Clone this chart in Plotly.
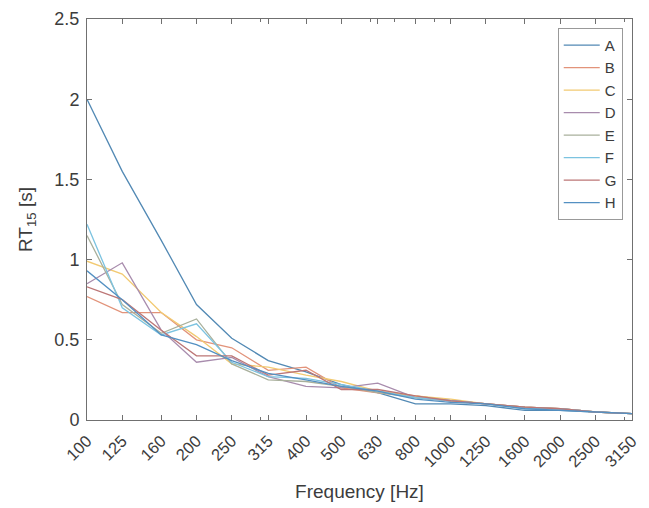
import plotly.graph_objects as go

freqs = [100, 125, 160, 200, 250, 315, 400, 500, 630, 800, 1000, 1250, 1600, 2000, 2500, 3150]
tick_labels = [str(f) for f in freqs]

A = [2.00, 1.55, 1.12, 0.72, 0.51, 0.37, 0.30, 0.22, 0.17, 0.10, 0.10, 0.09, 0.06, 0.06, 0.05, 0.04]
B = [0.77, 0.67, 0.67, 0.50, 0.45, 0.31, 0.33, 0.20, 0.17, 0.15, 0.12, 0.10, 0.08, 0.07, 0.05, 0.04]
C = [0.99, 0.91, 0.67, 0.52, 0.35, 0.33, 0.28, 0.24, 0.18, 0.15, 0.13, 0.10, 0.08, 0.07, 0.05, 0.04]
D = [0.85, 0.98, 0.56, 0.36, 0.39, 0.27, 0.21, 0.20, 0.23, 0.14, 0.12, 0.10, 0.08, 0.07, 0.05, 0.04]
E = [1.15, 0.72, 0.54, 0.63, 0.35, 0.25, 0.24, 0.21, 0.17, 0.14, 0.12, 0.10, 0.08, 0.07, 0.05, 0.04]
F = [1.22, 0.70, 0.53, 0.60, 0.36, 0.27, 0.26, 0.22, 0.18, 0.14, 0.12, 0.10, 0.07, 0.07, 0.05, 0.04]
G = [0.83, 0.75, 0.56, 0.40, 0.40, 0.28, 0.31, 0.19, 0.19, 0.15, 0.12, 0.10, 0.08, 0.07, 0.05, 0.04]
H = [0.93, 0.75, 0.53, 0.47, 0.37, 0.29, 0.25, 0.21, 0.18, 0.13, 0.11, 0.10, 0.07, 0.06, 0.05, 0.04]

series_names = ["A", "B", "C", "D", "E", "F", "G", "H"]
series_values = [A, B, C, D, E, F, G, H]
colors = ["#5289b4", "#e2937a", "#f2ca72", "#a88cad", "#a9b09c", "#7cc3e0", "#bc7676", "#5390c2"]

minor_ticks = [300, 600, 700, 900, 3000]

fig = go.Figure()
for name, vals, col in zip(series_names, series_values, colors):
    fig.add_trace(go.Scatter(x=freqs, y=vals, mode="lines", name=name,
                             line=dict(color=col, width=1.3)))

axis_col = "#707070"
font_family = "Liberation Sans, Arial, sans-serif"
txt_col = "#3c3c3c"

fig.update_layout(
    width=649, height=508,
    margin=dict(l=87, r=9, t=14, b=88),
    paper_bgcolor="white", plot_bgcolor="white",
    font=dict(family=font_family, color=txt_col),
    showlegend=True,
    legend=dict(x=0.983, y=0.978, xanchor="right", yanchor="top",
                bordercolor="#999999", borderwidth=1, bgcolor="white",
                font=dict(size=15, color=txt_col), tracegroupgap=0,
                itemwidth=36),
    xaxis=dict(type="log", range=[2, 3.49831], tickvals=freqs, ticktext=tick_labels,
               tickangle=-45, ticks="inside", ticklen=5, tickcolor=axis_col,
               showline=True, linecolor=axis_col, linewidth=1, mirror="ticks",
               showgrid=False, zeroline=False, ticklabelstandoff=4,
               tickfont=dict(size=16.5, color=txt_col),
               minor=dict(tickvals=minor_ticks, ticks="inside", ticklen=3, tickcolor=axis_col),
               title=dict(text="Frequency [Hz]", font=dict(size=19, color=txt_col), standoff=15)),
    yaxis=dict(range=[0, 2.5], tickvals=[0, 0.5, 1, 1.5, 2, 2.5],
               ticktext=["0", "0.5", "1", "1.5", "2", "2.5"],
               ticks="inside", ticklen=5, tickcolor=axis_col,
               showline=True, linecolor=axis_col, linewidth=1, mirror="ticks",
               showgrid=False, zeroline=False, ticklabelstandoff=3,
               tickfont=dict(size=18, color=txt_col),
               title=dict(text="RT<sub>15</sub> [s]", font=dict(size=19, color=txt_col), standoff=16)),
)

fig.write_html("out.html")
